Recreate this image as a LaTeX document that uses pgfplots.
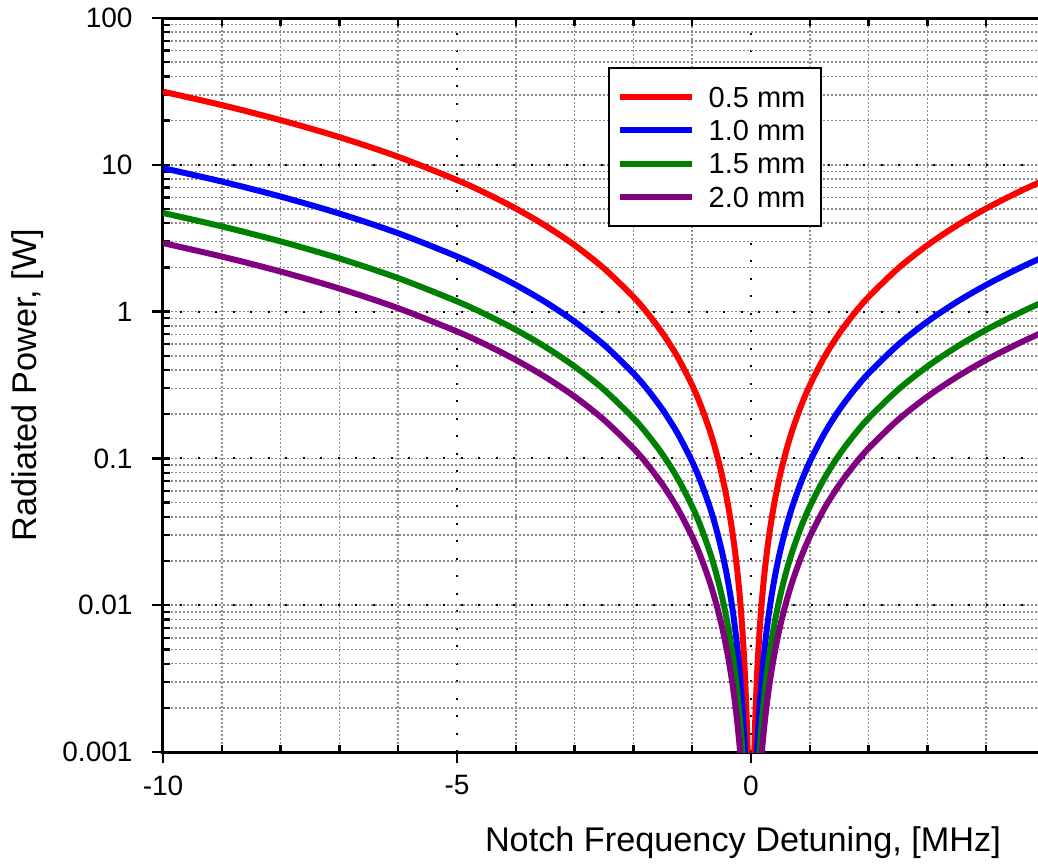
\documentclass[border=0pt]{standalone}
\usepackage{pgfplots}
\usepackage{pgfplotstable}
\pgfplotsset{compat=1.18}
\usepackage{fontspec}
\setmainfont{Liberation Sans}

\definecolor{cred}{RGB}{255,0,0}
\definecolor{cblue}{RGB}{0,0,255}
\definecolor{cgreen}{RGB}{0,128,0}
\definecolor{cpurple}{RGB}{128,0,128}

% |detuning| [MHz] vs radiated power [W] (curves are symmetric)
\pgfplotstableread{
d      r         b         g         p
10     31.5      9.5       4.7       2.93
9      25.52     7.695     3.807     2.373
8      20.16     6.08      3.008     1.875
7      15.44     4.655     2.303     1.436
6      11.34     3.42      1.692     1.055
5      7.875     2.375     1.175     0.7325
4.5    6.379     1.924     0.9518    0.5933
4      5.04      1.52      0.752     0.4688
3.5    3.859     1.164     0.5758    0.3589
3      2.835     0.855     0.423     0.2637
2.5    1.969     0.5938    0.2938    0.1831
2      1.26      0.38      0.188     0.1172
1.75   0.9647    0.2909    0.1439    0.08973
1.5    0.7088    0.2138    0.1058    0.06593
1.25   0.4922    0.1484    0.07344   0.04578
1      0.315     0.095     0.047     0.0293
0.85   0.2276    0.06864   0.03396   0.02117
0.7    0.1544    0.04655   0.02303   0.01436
0.6    0.1134    0.0342    0.01692   0.01055
0.5    0.07875   0.02375   0.01175   0.007325
0.42   0.05557   0.01676   0.008291  0.005169
0.35   0.03859   0.01164   0.005758  0.003589
0.29   0.02649   0.00799   0.003953  0.002464
0.24   0.01814   0.005472  0.002707  0.001688
0.2    0.0126    0.0038    0.00188   0.001172
0.17   0.009104  0.002746  0.001358  0.000847
0.14   0.006174  0.001862  0.000921  0.000574
0.12   0.004536  0.001368  0.000677  0.000422
0.1    0.00315   0.00095   0.00047   0.000293
0.08   0.002016  0.000608  0.000301  0.0001875
0.065  0.001331  0.000401  0.0001986 0.0001238
0.05   0.000788  0.0002375 0.0001175 0.0000733
0.04   0.000504  0.000152  0.0000752 0.0000469
0.03   0.000284  0.0000855 0.0000423 0.0000264
}\power

\begin{document}
\begin{tikzpicture}
\begin{axis}[
    scale only axis,
    width=352.8pt, height=293.6pt,
    xmin=-10, xmax=5,
    ymin=0.001, ymax=100,
    ymode=log,
    xtick={-10,-5,0,5}, xticklabels={-10,-5,0,5},
    minor x tick num=4,
    ytick={0.001,0.01,0.1,1,10,100},
    yticklabels={0.001,0.01,0.1,1,10,100},
    tick align=inside,
    major tick length=0pt, minor tick length=3pt,
    tick style={black, line width=0.9pt},
    extra x ticks={-10,-5,0,5}, extra x tick labels={},
    extra y ticks={0.001,0.01,0.1,1,10,100}, extra y tick labels={},
    extra tick style={tick align=outside, major tick length=4.5pt, grid=none, tick pos=left},
    axis line style={line width=1.2pt},
    grid=both,
    major grid style={black, line width=0.8pt, dash pattern=on 0.8pt off 6.2pt},
    minor grid style={black!45, line width=0.6pt, dash pattern=on 0.8pt off 0.8pt},
    tick label style={font=\fontsize{11.2}{13}\selectfont},
    yticklabel style={inner sep=0pt, anchor=east, xshift=-12pt},
    xticklabel style={inner sep=0pt, anchor=north, yshift=-9.2pt},
    label style={font=\fontsize{13.7}{16}\selectfont},
    xlabel={Notch Frequency Detuning, [MHz]},
    xlabel style={at={(axis description cs:0.96,-0.124)}, anchor=east},
    ylabel={Radiated Power, [W]},
    ylabel style={at={(axis description cs:-0.153,0.5)}, anchor=center},
    legend style={at={(axis description cs:0.5045,0.933)}, anchor=north west,
        draw=black, line width=0.8pt, inner xsep=3.2pt, inner ysep=7.4pt,
        font=\fontsize{11.6}{13}\selectfont, row sep=5pt,
        nodes={inner sep=0pt, text height=8.3pt, text depth=0pt},
        /tikz/every odd column/.append style={column sep=5.5pt}},
    legend cell align=left,
    legend image code/.code={\draw[#1] (0pt,0pt) -- (28.8pt,0pt);},
    every axis plot/.append style={line width=2.4pt, smooth},
]
% left branches (negative detuning)
\addplot[cred] table[x expr=-\thisrow{d}, y=r] {\power};
\addlegendentry{0.5 mm\hspace*{3pt}}
\addplot[cblue] table[x expr=-\thisrow{d}, y=b] {\power};
\addlegendentry{1.0 mm\hspace*{3pt}}
\addplot[cgreen] table[x expr=-\thisrow{d}, y=g] {\power};
\addlegendentry{1.5 mm\hspace*{3pt}}
\addplot[cpurple] table[x expr=-\thisrow{d}, y=p] {\power};
\addlegendentry{2.0 mm\hspace*{3pt}}
% right branches
\addplot[cred, forget plot] table[x=d, y=r] {\power};
\addplot[cblue, forget plot] table[x=d, y=b] {\power};
\addplot[cgreen, forget plot] table[x=d, y=g] {\power};
\addplot[cpurple, forget plot] table[x=d, y=p] {\power};
\end{axis}
\pgfresetboundingbox
\path[use as bounding box] ([xshift=-65.2pt,yshift=-46pt]current axis.south west)
    rectangle ([xshift=350pt,yshift=7.2pt]current axis.north west);
\end{tikzpicture}
\end{document}
